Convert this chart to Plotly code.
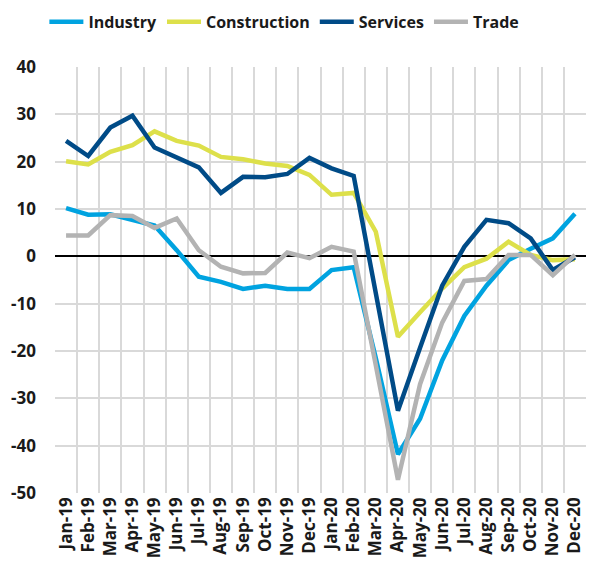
import plotly.graph_objects as go

months = ["Jan-19", "Feb-19", "Mar-19", "Apr-19", "May-19", "Jun-19", "Jul-19", "Aug-19",
          "Sep-19", "Oct-19", "Nov-19", "Dec-19", "Jan-20", "Feb-20", "Mar-20", "Apr-20",
          "May-20", "Jun-20", "Jul-20", "Aug-20", "Sep-20", "Oct-20", "Nov-20", "Dec-20"]

industry = [10.2, 8.8, 8.9, 7.7, 6.5, 1.3, -4.3, -5.4, -6.9, -6.2, -6.9, -6.9,
            -2.9, -2.3, -21.5, -41.8, -34.3, -22.0, -12.6, -6.2, -0.8, 1.6, 3.8, 9.0]
construction = [20.1, 19.4, 22.1, 23.5, 26.4, 24.4, 23.4, 21.0, 20.5, 19.6, 19.1, 17.2,
                13.0, 13.4, 5.2, -17.0, -11.8, -6.8, -2.3, -0.5, 3.1, 0.3, -0.8, -0.6]
services = [24.4, 21.2, 27.2, 29.7, 23.0, 21.0, 18.8, 13.4, 16.8, 16.7, 17.4, 20.8,
            18.6, 17.0, -7.8, -32.6, -19.3, -6.2, 2.0, 7.7, 7.0, 3.8, -2.9, -0.2]
trade = [4.4, 4.4, 8.7, 8.5, 6.0, 8.0, 1.3, -2.2, -3.6, -3.5, 0.8, -0.4,
         2.0, 1.0, -23.0, -47.2, -27.0, -14.0, -5.2, -4.8, 0.3, 0.3, -4.0, 0.3]

y_ticks = [40, 30, 20, 10, 0, -10, -20, -30, -40, -50]

series = [
    ("Industry", industry, "#00A3E0"),
    ("Construction", construction, "#DDE04A"),
    ("Services", services, "#004B87"),
    ("Trade", trade, "#B3B3B3"),
]

fig = go.Figure()
for name, vals, color in series:
    fig.add_trace(go.Scatter(x=months, y=vals, name=name, mode="lines",
                             line=dict(color=color, width=4.5)))

font_family = "Open Sans, sans-serif"
fig.update_layout(
    width=598, height=567,
    margin=dict(l=47, r=20, t=59, b=82, autoexpand=False),
    paper_bgcolor="white", plot_bgcolor="white",
    font=dict(family=font_family, color="#1a1a1a", size=14),
    showlegend=True,
    legend=dict(orientation="h", x=-0.02, xanchor="left", y=1.106, yanchor="middle",
                font=dict(family=font_family, size=16, color="#1a1a1a", weight="bold"),
                itemwidth=34, tracegroupgap=0, bgcolor="rgba(0,0,0,0)"),
    xaxis=dict(type="category", categoryorder="array", categoryarray=months,
               range=[-0.5, len(months) - 0.5],
               tickson="boundaries", ticks="", showgrid=True, gridcolor="#D9D9D9", gridwidth=1.5,
               tickangle=-90, tickfont=dict(family=font_family, size=17, color="#1a1a1a", weight="bold"),
               showline=False, zeroline=False),
    yaxis=dict(range=[-50, 40], tickvals=y_ticks, ticktext=[str(v) for v in y_ticks],
               showgrid=True, gridcolor="#D9D9D9", gridwidth=1.5,
               zeroline=True, zerolinecolor="#000000", zerolinewidth=2,
               ticks="", ticklabelstandoff=18,
               tickfont=dict(family=font_family, size=17, color="#1a1a1a", weight="bold"),
               showline=False),
)

fig.write_html("out.html")
